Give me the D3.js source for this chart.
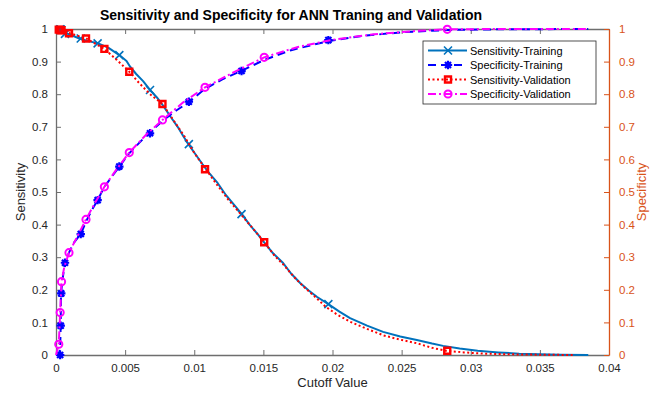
<!DOCTYPE html>
<meta charset="utf-8">
<body style="margin:0;background:#fff">

<script src="https://d3js.org/d3.v7.min.js"></script>
<script>

// ---- data ----
var sensCutTrain = [0, 0.0005, 0.0010, 0.00169, 0.0024, 0.00306, 0.0038, 0.00458, 0.0051, 0.00535, 0.0058, 0.0063, 0.0068, 0.0073, 0.0078,
  0.0083, 0.0088, 0.0092, 0.00957, 0.0101, 0.0106, 0.0111, 0.0117, 0.0123, 0.0129, 0.01344, 0.0140, 0.0146, 0.0151, 0.0157,
  0.01643, 0.0170, 0.01766, 0.01828, 0.01889, 0.0197, 0.0205, 0.02127, 0.0225, 0.02366, 0.0249, 0.0261, 0.0272, 0.0280,
  0.0292, 0.0305, 0.0320, 0.0335, 0.0350, 0.0365, 0.0385];
var sensTrain = [1.0, 0.99, 0.983, 0.971, 0.962, 0.956, 0.942, 0.920, 0.902, 0.885, 0.862, 0.84, 0.813, 0.79, 0.762,
  0.73, 0.70, 0.672, 0.647, 0.615, 0.585, 0.557, 0.527, 0.49, 0.46, 0.432, 0.40, 0.37, 0.343, 0.312,
  0.282, 0.25, 0.221, 0.198, 0.178, 0.156, 0.133, 0.113, 0.09, 0.071, 0.057, 0.046, 0.035, 0.028,
  0.02, 0.013, 0.008, 0.004, 0.002, 0.001, 0];

var sensCutVal = [0, 0.0002, 0.001, 0.00217, 0.0035, 0.0044, 0.0053, 0.0060, 0.0068, 0.0077, 0.0085, 0.0093, 0.0100, 0.01083,
  0.0116, 0.0124, 0.0131, 0.0138, 0.0145, 0.01507, 0.0158, 0.0165, 0.0172, 0.0179, 0.0187, 0.0195, 0.0203, 0.02127,
  0.0225, 0.0237, 0.0249, 0.0261, 0.0272, 0.02822, 0.0295, 0.0310, 0.0330, 0.0350, 0.0375];
var sensVal = [1.0, 0.997, 0.987, 0.971, 0.939, 0.905, 0.869, 0.835, 0.80, 0.77, 0.72, 0.67, 0.62, 0.570,
  0.525, 0.48, 0.445, 0.41, 0.375, 0.346, 0.305, 0.275, 0.24, 0.21, 0.18, 0.148, 0.125, 0.102,
  0.08, 0.06, 0.047, 0.036, 0.022, 0.013, 0.008, 0.004, 0.002, 0.001, 0];

var specCutTrain = [0, 0.0002, 0.0003, 0.00034, 0.00036, 0.0005, 0.00065, 0.00094, 0.0013, 0.00179, 0.0022, 0.0026, 0.00301,
  0.0035, 0.0040, 0.00458, 0.00526, 0.0060, 0.00671, 0.0077, 0.0087, 0.00965, 0.01073, 0.0120, 0.01339, 0.01505,
  0.0170, 0.0197, 0.022, 0.025, 0.0284, 0.032, 0.0385];
var specTrain = [0, 0.0, 0.02, 0.09, 0.189, 0.24, 0.283, 0.314, 0.345, 0.371, 0.412, 0.445, 0.475,
  0.516, 0.545, 0.578, 0.617, 0.65, 0.680, 0.718, 0.75, 0.777, 0.815, 0.845, 0.871, 0.905,
  0.935, 0.963, 0.978, 0.99, 0.997, 0.999, 1.0];

var specCutVal = [0, 0.0002, 0.0003, 0.0004, 0.0006, 0.00094, 0.0015, 0.00217, 0.0028, 0.0035, 0.0043, 0.0053, 0.0065,
  0.0077, 0.0092, 0.01078, 0.0128, 0.01506, 0.0175, 0.0200, 0.0230, 0.0260, 0.0283, 0.032, 0.0385];
var specVal = [0, 0.033, 0.13, 0.225, 0.27, 0.314, 0.36, 0.416, 0.465, 0.516, 0.565, 0.621, 0.675,
  0.721, 0.775, 0.821, 0.866, 0.913, 0.945, 0.967, 0.984, 0.994, 0.999, 1.0, 1.0];

// marker positions (same cutoffs for sensitivity and specificity of one set)
var markCutTrain  = [0.0003, 0.00034, 0.00038, 0.00065, 0.00179, 0.00301, 0.00458, 0.0068, 0.00961, 0.01342, 0.0197];
var markSensTrain = [0.999, 0.998, 0.997, 0.985, 0.971, 0.956, 0.920, 0.813, 0.647, 0.432, 0.156];
var markSpecTrain = [0.0, 0.09, 0.189, 0.283, 0.371, 0.475, 0.578, 0.680, 0.777, 0.871, 0.966];

var markCutVal  = [0.0002, 0.0003, 0.0004, 0.00094, 0.00217, 0.0035, 0.0053, 0.0077, 0.01078, 0.01506, 0.0283];
var markSensVal = [0.998, 0.997, 0.996, 0.987, 0.971, 0.939, 0.869, 0.770, 0.570, 0.346, 0.013];
var markSpecVal = [0.033, 0.13, 0.225, 0.314, 0.416, 0.516, 0.621, 0.721, 0.821, 0.913, 0.999];

var xTicks = [0, 0.005, 0.01, 0.015, 0.02, 0.025, 0.03, 0.035, 0.04];
var xTickLabels = ["0", "0.005", "0.01", "0.015", "0.02", "0.025", "0.03", "0.035", "0.04"];
var yTicks = [0, 0.1, 0.2, 0.3, 0.4, 0.5, 0.6, 0.7, 0.8, 0.9, 1];
var yTickLabels = ["0", "0.1", "0.2", "0.3", "0.4", "0.5", "0.6", "0.7", "0.8", "0.9", "1"];

var seriesNames = ["Sensitivity-Training", "Specificity-Training", "Sensitivity-Validation", "Specificity-Validation"];

// ---- layout ----
var margin = {top: 29, right: 42, bottom: 38, left: 56},
    width = 651 - margin.left - margin.right,
    height = 393 - margin.top - margin.bottom;

var orange = "#D95319", axisGrey = "#262626", lineGrey = "#6e6e6e";
var font = "'Liberation Sans', Arial, Helvetica, sans-serif";

var x = d3.scaleLinear().domain([0, 0.04]).range([0, width]);
var yL = d3.scaleLinear().domain([0, 1]).range([height, 0]);
var yR = d3.scaleLinear().domain([0, 1]).range([height, 0]);

var svg = d3.select("body").append("svg")
    .attr("width", 651).attr("height", 393)
    .style("font-family", font)
    .append("g")
    .attr("transform", "translate(" + margin.left + "," + margin.top + ")");

// ---- axes (ticks point inward) ----
function styleAxis(g, col) {
  g.select(".domain").attr("stroke", col === orange ? orange : lineGrey).attr("stroke-width", 1.3);
  g.selectAll(".tick line").attr("stroke", col === orange ? orange : lineGrey).attr("stroke-width", 1);
  g.selectAll(".tick text").attr("fill", col).style("font-size", "11.5px").style("font-family", font);
}

var xAxis = svg.append("g").attr("transform", "translate(0," + height + ")")
  .call(d3.axisBottom(x).tickValues(xTicks).tickFormat(function(d, i) { return xTickLabels[i]; })
        .tickSizeInner(-5).tickSizeOuter(0).tickPadding(9));
styleAxis(xAxis, axisGrey);

var xTop = svg.append("g")
  .call(d3.axisTop(x).tickValues(xTicks).tickFormat("").tickSizeInner(-5).tickSizeOuter(0));
styleAxis(xTop, axisGrey);

var yAxisL = svg.append("g")
  .call(d3.axisLeft(yL).tickValues(yTicks).tickFormat(function(d, i) { return yTickLabels[i]; })
        .tickSizeInner(-5).tickSizeOuter(0).tickPadding(8));
styleAxis(yAxisL, axisGrey);

var yAxisR = svg.append("g").attr("transform", "translate(" + width + ",0)")
  .call(d3.axisRight(yR).tickValues(yTicks).tickFormat(function(d, i) { return yTickLabels[i]; })
        .tickSizeInner(-5).tickSizeOuter(0).tickPadding(10));
styleAxis(yAxisR, orange);

// ---- marker shapes ----
function markerPath(kind, r) {
  if (kind === "x") return "M" + (-r) + "," + (-r) + "L" + r + "," + r + "M" + (-r) + "," + r + "L" + r + "," + (-r);
  if (kind === "star") {
    var a = r * 0.72;
    return "M" + (-r) + ",0L" + r + ",0M0," + (-r) + "L0," + r +
           "M" + (-a) + "," + (-a) + "L" + a + "," + a + "M" + (-a) + "," + a + "L" + a + "," + (-a);
  }
  if (kind === "square") return "M" + (-r) + "," + (-r) + "H" + r + "V" + r + "H" + (-r) + "Z";
  return d3.symbol().type(d3.symbolCircle).size(Math.PI * r * r)();
}

var styles = [
  {color: "#0072BD", dash: null, mark: "x", r: 4, mw: 1.6},
  {color: "#0000FF", dash: "8,5", mark: "star", r: 4.2, mw: 2.2},
  {color: "#FF0000", dash: "2,2.5", mark: "square", r: 3, mw: 2.4},
  {color: "#FF00FF", dash: "8,3,2,3", mark: "circle", r: 3.6, mw: 2}
];

function drawSeries(cut, vals, yScale, st) {
  var pts = cut.map(function(c, i) { return [x(c), yScale(vals[i])]; });
  svg.append("path")
    .attr("d", d3.line()(pts))
    .attr("fill", "none")
    .attr("stroke", st.color)
    .attr("stroke-width", 2)
    .attr("stroke-dasharray", st.dash)
    .attr("stroke-linejoin", "round");
}

function drawMarkers(cut, vals, yScale, st) {
  svg.append("g").selectAll("path")
    .data(cut)
    .enter().append("path")
    .attr("transform", function(d, i) { return "translate(" + x(d) + "," + yScale(vals[i]) + ")"; })
    .attr("d", markerPath(st.mark, st.r))
    .attr("fill", "none")
    .attr("stroke", st.color)
    .attr("stroke-width", st.mw);
}

drawSeries(sensCutTrain, sensTrain, yL, styles[0]);
drawMarkers(markCutTrain, markSensTrain, yL, styles[0]);
drawSeries(sensCutVal, sensVal, yL, styles[2]);
drawMarkers(markCutVal, markSensVal, yL, styles[2]);
drawSeries(specCutTrain, specTrain, yR, styles[1]);
drawMarkers(markCutTrain, markSpecTrain, yR, styles[1]);
drawSeries(specCutVal, specVal, yR, styles[3]);
drawMarkers(markCutVal, markSpecVal, yR, styles[3]);

// ---- titles ----
svg.append("text")
  .attr("x", 291 - margin.left).attr("y", -9)
  .attr("text-anchor", "middle")
  .style("font-size", "14px").style("font-weight", "bold").attr("fill", "#000")
  .text("Sensitivity and Specificity for ANN Traning and Validation");

svg.append("text")
  .attr("x", width / 2).attr("y", height + 32)
  .attr("text-anchor", "middle")
  .style("font-size", "13px").attr("fill", axisGrey)
  .text("Cutoff Value");

svg.append("text")
  .attr("transform", "rotate(-90)")
  .attr("x", -height / 2).attr("y", -31)
  .attr("text-anchor", "middle")
  .style("font-size", "13px").attr("fill", axisGrey)
  .text("Sensitivity");

svg.append("text")
  .attr("transform", "translate(" + (646 - margin.left) + "," + (height / 2) + ") rotate(-90)")
  .attr("text-anchor", "middle")
  .style("font-size", "13px").attr("fill", orange)
  .text("Specificity");

// ---- legend ----
var legend = svg.append("g").attr("transform", "translate(" + (423 - margin.left) + "," + (41 - margin.top) + ")");
legend.append("rect")
  .attr("width", 173).attr("height", 63)
  .attr("fill", "#fff").attr("stroke", axisGrey).attr("stroke-width", 0.8);

seriesNames.forEach(function(name, i) {
  var st = styles[i], yy = 9.5 + i * 14.5;
  legend.append("line")
    .attr("x1", 5).attr("x2", 44).attr("y1", yy).attr("y2", yy)
    .attr("stroke", st.color).attr("stroke-width", 2)
    .attr("stroke-dasharray", st.dash);
  legend.append("path")
    .attr("transform", "translate(25," + yy + ")")
    .attr("d", markerPath(st.mark, st.r))
    .attr("fill", "none").attr("stroke", st.color).attr("stroke-width", st.mw);
  legend.append("text")
    .attr("x", 47).attr("y", yy + 4)
    .style("font-size", "11px").attr("fill", "#000")
    .text(name);
});

</script>
</body>
</html>
